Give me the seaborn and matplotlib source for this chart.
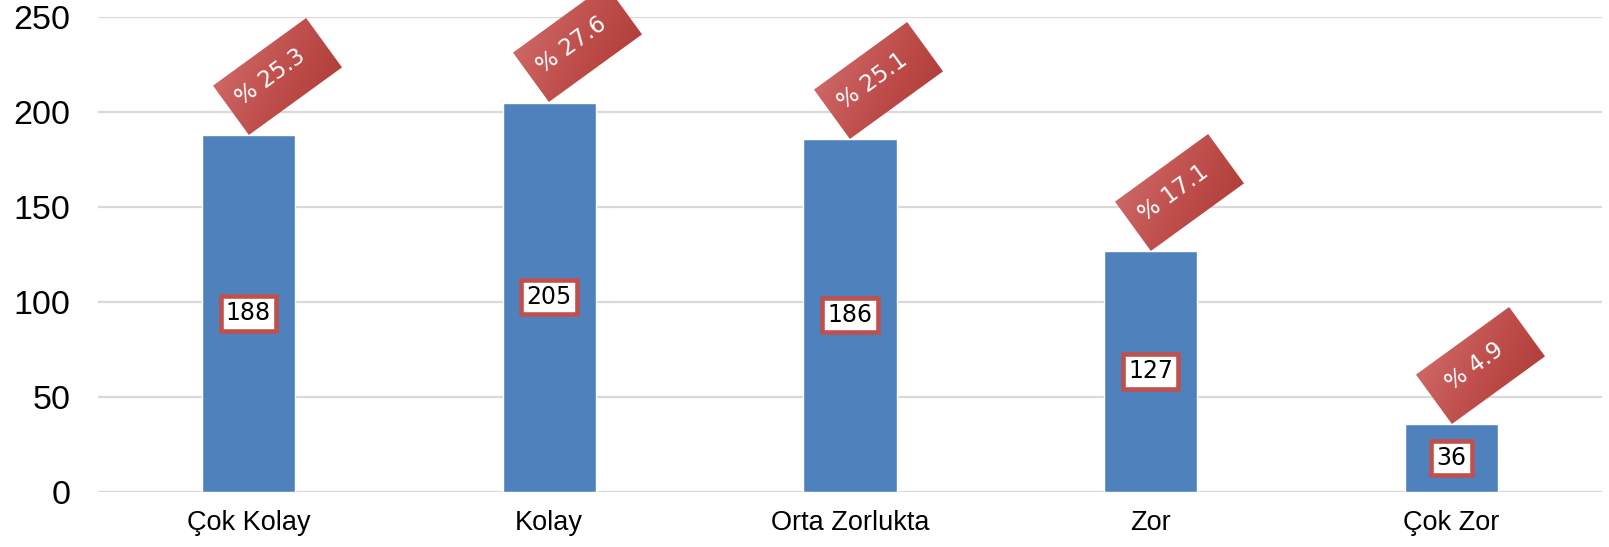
import numpy as np
import pandas as pd
import matplotlib
matplotlib.use("Agg")
import matplotlib.pyplot as plt
import matplotlib.transforms as mtransforms
from matplotlib.patches import Rectangle
from matplotlib.colors import LinearSegmentedColormap
import seaborn as sns

categories = ["Çok Kolay", "Kolay", "Orta Zorlukta", "Zor", "Çok Zor"]
counts = [188, 205, 186, 127, 36]
percents = [25.3, 27.6, 25.1, 17.1, 4.9]
y_ticks = [0, 50, 100, 150, 200, 250]

sns.set_theme(style="white")
plt.rcParams["font.family"] = ["Liberation Sans", "DejaVu Sans"]

BAR = "#4F81BD"
RED = "#C0504D"

fig = plt.figure(figsize=(16.09, 5.47), dpi=100)
ax = fig.add_axes([98 / 1609, 1 - 492 / 547, (1602 - 98) / 1609, (492 - 17) / 547])

df = pd.DataFrame({"cat": categories, "n": counts})
sns.barplot(data=df, x="cat", y="n", color=BAR, width=0.31, saturation=1, ax=ax)

ax.set_xlim(-0.5, len(categories) - 0.5)
ax.set_ylim(0, 250)
ax.set_yticks(y_ticks)
ax.set_yticklabels([str(t) for t in y_ticks])
ax.set_xlabel("")
ax.set_ylabel("")
for s in ax.spines.values():
    s.set_visible(False)
ax.yaxis.grid(True, color="#D9D9D9", lw=1.6)
ax.set_axisbelow(True)
ax.tick_params(axis="y", length=0, pad=20, labelsize=24.5, labelcolor="black")
ax.tick_params(axis="x", length=0, pad=13, labelsize=19.5, labelcolor="black")

# value boxes at half bar height
for i, v in enumerate(counts):
    ax.text(i, v / 2, str(v), ha="center", va="center", fontsize=17, color="black",
            family="DejaVu Sans", zorder=5,
            bbox=dict(boxstyle="square,pad=0.22", fc="white", ec=RED, lw=3.3))

# rotated percentage tags anchored at bar top centre
W, H, ANG = 115, 61, 36
cmap = LinearSegmentedColormap.from_list("tag", ["#CD6765", "#C0504D", "#B23F3C"])
gx, gy = np.meshgrid(np.linspace(0, 1, 120), np.linspace(0, 1, 60))
grad = (gx - gy + 1) / 2
c, s = np.cos(np.radians(ANG)), np.sin(np.radians(ANG))
cx, cy = c * W / 2 - s * H / 2, s * W / 2 + c * H / 2
for i, (v, p) in enumerate(zip(counts, percents)):
    tr = mtransforms.Affine2D().rotate_deg(ANG) + mtransforms.ScaledTranslation(i, v, ax.transData)
    rect = Rectangle((0, 0), W, H, transform=tr, fc="none", ec="none", clip_on=False)
    ax.add_patch(rect)
    im = ax.imshow(grad, cmap=cmap, extent=(0, W, 0, H), origin="lower",
                   aspect="auto", interpolation="bilinear", zorder=4)
    im.set_transform(tr)
    im.set_clip_path(rect)
    ax.annotate(f"% {p}", xy=(i, v), xytext=(cx - 6, cy - 1), textcoords="offset pixels",
                ha="center", va="center", rotation=ANG, rotation_mode="anchor",
                fontsize=16.5, color="white", family="DejaVu Sans", zorder=6,
                annotation_clip=False)

ax.set_xlim(-0.5, len(categories) - 0.5)
ax.set_ylim(0, 250)

fig.savefig("out.png", dpi=100)
